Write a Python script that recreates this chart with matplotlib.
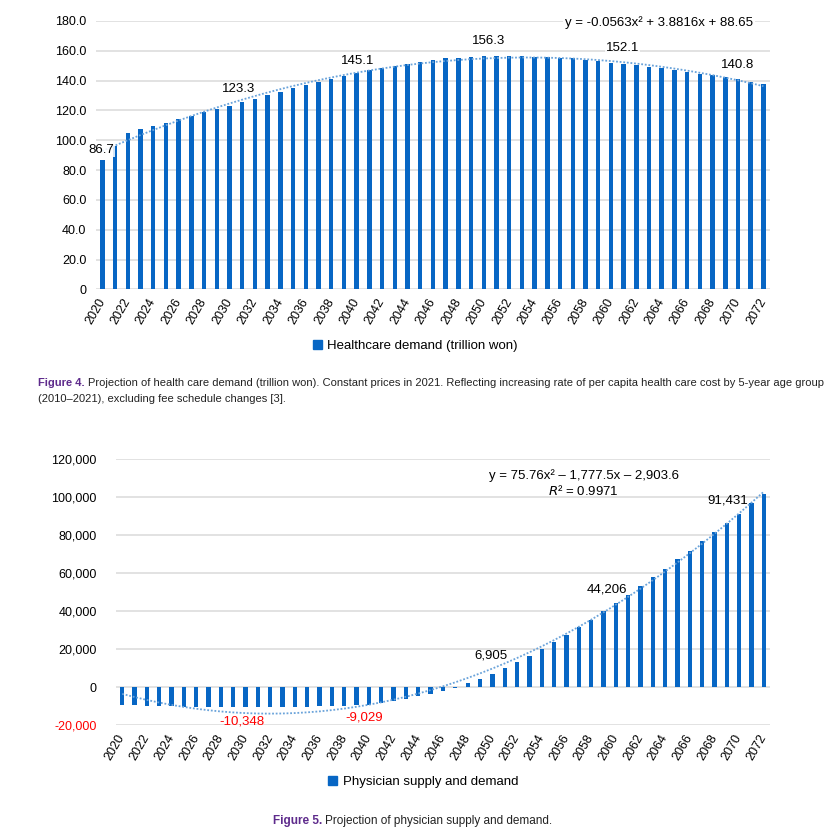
import numpy as np
import matplotlib.pyplot as plt
from matplotlib.patches import Patch

plt.rcParams['font.family'] = ['Liberation Sans', 'DejaVu Sans']

years = list(range(2020, 2073))

# Figure 4: healthcare demand (trillion won)
demand = [86.7, 96.0, 104.9, 107.3, 109.6, 111.8, 114.0, 116.5, 119.1, 120.9,
          123.3, 125.6, 127.9, 130.2, 132.5, 134.9, 136.9, 139.3, 141.3, 143.2,
          145.1, 147.0, 148.5, 149.9, 151.4, 152.5, 153.8, 154.9, 155.4, 155.8,
          156.3, 156.3, 156.3, 156.2, 155.8, 155.6, 155.4, 154.9, 153.9, 153.3,
          152.1, 151.1, 150.2, 149.1, 148.2, 146.9, 145.8, 144.7, 143.6, 142.2,
          140.8, 139.3, 138.0]
demand_label_years = [2020, 2030, 2040, 2050, 2060, 2070]
demand_label_text = ['86.7', '123.3', '145.1', '156.3', '152.1', '140.8']

# Figure 5: physician supply and demand
physician = [-9000, -9300, -9500, -9700, -9900, -10050, -10150, -10250, -10300, -10340,
             -10348, -10330, -10290, -10230, -10150, -10050, -9950, -9800, -9600, -9350,
             -9029, -8200, -7300, -6100, -4700, -3500, -2100, -200, 2100, 4400,
             6905, 10150, 13300, 16600, 20100, 23800, 27700, 31700, 35500, 40100,
             44206, 48700, 53100, 58000, 62500, 67500, 72000, 76900, 81700, 86700,
             91431, 96900, 101600]
phys_label_years = [2030, 2040, 2050, 2060, 2070]
phys_label_text = ['-10,348', '-9,029', '6,905', '44,206', '91,431']

bar_color = '#0766C4'
trend_color = '#6AA3DA'
grid_color = '#DADADA'

fig = plt.figure(figsize=(8.36, 8.39), dpi=100)
renderer = fig.canvas.get_renderer()

x = np.arange(len(years))
xt = np.arange(1, len(years) + 1)


def style_axes(ax):
    for s in ax.spines.values():
        s.set_visible(False)
    ax.set_xlim(-0.5, len(years) - 0.5)
    ax.grid(axis='y', color=grid_color, linewidth=1.1)
    ax.set_axisbelow(True)
    ax.tick_params(axis='both', length=0, labelsize=9)
    ax.set_xticks(x[::2])
    ax.set_xticklabels([str(y) for y in years[::2]], rotation=60,
                       ha='right', va='center', rotation_mode='anchor')
    ax.tick_params(axis='x', pad=7)


# ---- Figure 4 ----
ax1 = fig.add_axes([0.1148, 0.655, 0.806, 0.32])
ax1.bar(x, demand, width=0.35, color=bar_color, zorder=2)
c1 = np.polyfit(xt, demand, 2)
ax1.plot(x, np.polyval(c1, xt), linestyle=(0, (1, 1)), color=trend_color, lw=1.3, zorder=3)
style_axes(ax1)
ax1.set_ylim(0, 180)
ax1.set_yticks(np.arange(0, 181, 20))
ax1.set_yticklabels(['0'] + ['%.1f' % v for v in np.arange(20, 181, 20)])
ax1.tick_params(axis='y', pad=7)

lab1_dx = [-0.1, 0.7, 0.1, 0.4, 0.9, 0.0]
lab1_y = [93.5, 134.6, 153.4, 166.8, 161.6, 150.7]
for yr, t, dx, yy in zip(demand_label_years, demand_label_text, lab1_dx, lab1_y):
    ax1.text(years.index(yr) + dx, yy, t, ha='center', va='center', fontsize=9.5,
             bbox=dict(facecolor='white', edgecolor='none', pad=0.5, alpha=0.85), zorder=4)
ax1.text(0.975, 0.995, 'y = -0.0563x\u00b2 + 3.8816x + 88.65', transform=ax1.transAxes,
         ha='right', va='center', fontsize=9.5,
         bbox=dict(facecolor='white', edgecolor='none', pad=1.5), zorder=4)

fig.legend(handles=[Patch(color=bar_color)], labels=['Healthcare demand (trillion won)'],
           loc='center', bbox_to_anchor=(0.497, 0.588), frameon=False, fontsize=9.5,
           handlelength=0.7, handleheight=0.7, handletextpad=0.4)

# ---- Figure 5 ----
ax2 = fig.add_axes([0.1388, 0.1353, 0.7822, 0.3173])
ax2.bar(x, physician, width=0.35, color=bar_color, zorder=2)
c2 = np.polyfit(xt, physician, 2)
ax2.plot(x, np.polyval(c2, xt), linestyle=(0, (1, 1)), color=trend_color, lw=1.3, zorder=3)
style_axes(ax2)
ax2.set_ylim(-20000, 120000)
yt2 = np.arange(-20000, 120001, 20000)
ax2.set_yticks(yt2)
ax2.set_yticklabels(['{:,}'.format(v) for v in yt2])
ax2.get_yticklabels()[0].set_color('#FF0000')
ax2.tick_params(axis='y', pad=14)

lab2_dx = [-0.3, -0.35, -0.1, -0.7, -0.9]
lab2_y = [-18000, -15800, 16800, 51700, 98100]
lab2_col = ['#FF0000', '#FF0000', 'black', 'black', 'black']
for yr, t, dx, yy, col in zip(phys_label_years, phys_label_text, lab2_dx, lab2_y, lab2_col):
    ax2.text(years.index(yr) + dx, yy, t, ha='center', va='center', fontsize=9.5,
             color=col, zorder=4)
ax2.text(0.715, 0.937, 'y = 75.76x\u00b2 \u2013 1,777.5x \u2013 2,903.6', transform=ax2.transAxes,
         ha='center', va='center', fontsize=9.5)
ax2.text(0.715, 0.88, r'$\it{R}$' + '\u00b2 = 0.9971', transform=ax2.transAxes,
         ha='center', va='center', fontsize=9.5)

fig.legend(handles=[Patch(color=bar_color)], labels=['Physician supply and demand'],
           loc='center', bbox_to_anchor=(0.506, 0.068), frameon=False, fontsize=9.5,
           handlelength=0.7, handleheight=0.7, handletextpad=0.4)

# ---- captions (shrunk to the width of the printed caption) ----
cap_font = ['Liberation Sans', 'DejaVu Sans']
W = fig.bbox.width


def caption_parts(xpos, ypos, head, body, size):
    t1 = fig.text(xpos, ypos, head, fontsize=size, fontweight='bold', color='#5E2B8C',
                  family=cap_font, va='center')
    bb = t1.get_window_extent(renderer=renderer)
    t2 = fig.text(bb.x1 / W + 0.004, ypos, body, fontsize=size, color='#222222',
                  family=cap_font, va='center')
    return t1, t2


def fitted_caption(xpos, ypos, head, body, width_px):
    t1, t2 = caption_parts(xpos, ypos, head, body, 10)
    right = t2.get_window_extent(renderer=renderer).x1
    size = 10 * width_px / (right - xpos * W)
    t1.remove()
    t2.remove()
    caption_parts(xpos, ypos, head, body, size)
    return size


s4 = fitted_caption(0.045, 0.5435, 'Figure 4.',
                    'Projection of health care demand (trillion won). Constant prices in 2021. '
                    'Reflecting increasing rate of per capita health care cost by 5-year age group',
                    784)
fig.text(0.045, 0.5244, '(2010\u20132021), excluding fee schedule changes [3].', fontsize=s4,
         color='#222222', family=cap_font, va='center')
fitted_caption(0.326, 0.0215, 'Figure 5.', 'Projection of physician supply and demand.', 281)

fig.savefig('out.png', dpi=100, facecolor='white')
